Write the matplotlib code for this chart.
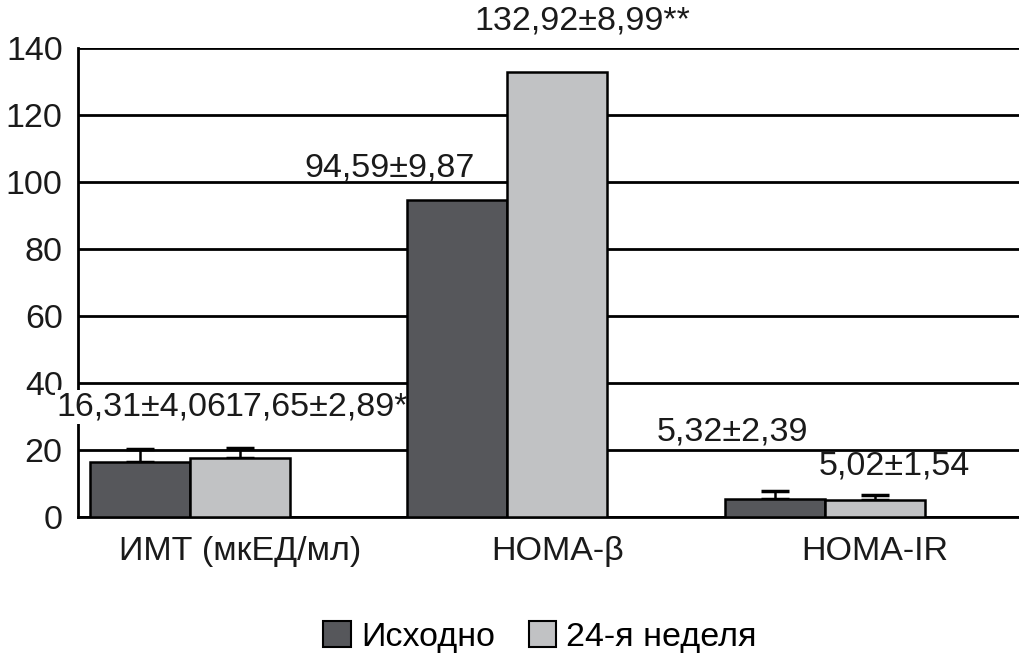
import matplotlib
matplotlib.use('Agg')
import matplotlib.pyplot as plt
import matplotlib.patches as mpatches
import numpy as np

plt.rcParams['font.family'] = ['Liberation Sans', 'DejaVu Sans']

categories = ['ИМТ (мкЕД/мл)', 'HOMA-β', 'HOMA-IR']
series_names = ['Исходно', '24-я неделя']
base_vals = [16.31, 94.59, 5.32]
base_err = [4.06, 9.87, 2.39]
week24_vals = [17.65, 132.92, 5.02]
week24_err = [2.89, 8.99, 1.54]
week24_marks = ['*', '**', '']
show_err = [True, False, True]   # whiskers only drawn for ИМТ and HOMA-IR

# where each value label sits (x in category units, y in data units)
base_lbl_pos = [(-0.31, 32.8), (0.47, 104.2), (1.55, 25.4)]
week_lbl_pos = [(0.24, 32.8), (1.08, 148), (2.06, 15.2)]

dark = '#56575b'
light = '#c1c2c4'
fs = 24.5

fig = plt.figure(figsize=(10.19, 6.57), dpi=100)
ax = fig.add_axes([0.0765, 0.2131, 0.9235, 0.7138])

x = np.arange(len(categories))
w = 0.315

for vals, errs, off, col in [(base_vals, base_err, -w, dark), (week24_vals, week24_err, 0, light)]:
    ax.bar(x + off, vals, width=w, color=col, edgecolor='black', linewidth=1.8, zorder=3)
    for i in range(len(x)):
        if show_err[i]:
            ax.errorbar(x[i] + off, vals[i], yerr=[[0], [errs[i]]], fmt='none',
                        ecolor='black', elinewidth=1.8, capsize=10, capthick=2.5, zorder=2)

def fmt(v):
    return f'{v:.2f}'.replace('.', ',')

for i in range(len(categories)):
    bx, by = base_lbl_pos[i]
    t = ax.text(bx, by, f'{fmt(base_vals[i])}±{fmt(base_err[i])}', ha='center', va='center',
                fontsize=fs, color='#1a1a1a', clip_on=False, zorder=6)
    if i == 0:
        # white box breaks the left spine behind the label
        t.set_bbox(dict(facecolor='white', edgecolor='none', pad=1))
    wx, wy = week_lbl_pos[i]
    ax.text(wx, wy, f'{fmt(week24_vals[i])}±{fmt(week24_err[i])}{week24_marks[i]}', ha='center',
            va='center', fontsize=fs, color='#1a1a1a', clip_on=False, zorder=6)

ax.set_xlim(-0.51, 2.454)
ax.set_ylim(0, 140)
ax.set_yticks(np.arange(0, 141, 20))
ax.set_xticks(x)
ax.set_xticklabels(categories)
ax.tick_params(axis='y', length=0, pad=11, labelsize=fs, labelcolor='#1a1a1a')
ax.tick_params(axis='x', length=0, pad=14, labelsize=fs, labelcolor='#1a1a1a')

ax.yaxis.grid(True, color='black', linewidth=2)
ax.set_axisbelow(True)
for s in ['top', 'right']:
    ax.spines[s].set_visible(False)
ax.spines['left'].set_linewidth(2)
ax.spines['bottom'].set_linewidth(2)
ax.spines['left'].set_zorder(4)

handles = [mpatches.Patch(facecolor=dark, edgecolor='black', linewidth=1.5, label=series_names[0]),
           mpatches.Patch(facecolor=light, edgecolor='black', linewidth=1.5, label=series_names[1])]
fig.legend(handles=handles, loc='center', bbox_to_anchor=(0.53, 0.03), ncol=2, frameon=False,
           fontsize=fs, handlelength=0.8, handleheight=0.8, handletextpad=0.3, columnspacing=1.0)

fig.savefig('out.png', dpi=100)
